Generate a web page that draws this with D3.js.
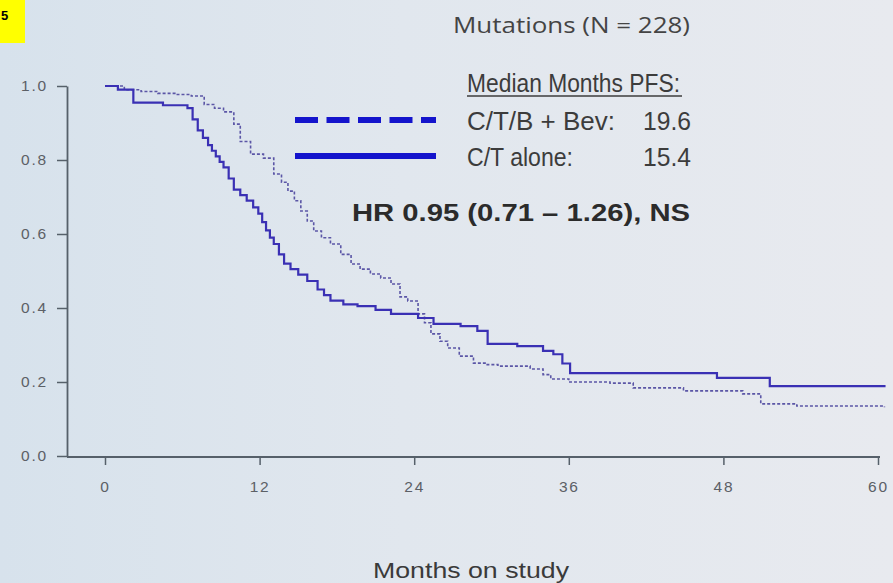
<!DOCTYPE html>
<html>
<head>
<meta charset="utf-8">
<script src="https://cdn.jsdelivr.net/npm/d3@7"></script>
<style>
  body { margin:0; padding:0; overflow:hidden; }
  svg { display:block; }
</style>
</head>
<body>
<script>
// KM curve data (months, proportion progression free)
var bevMonths = [0,1.5,2.8,4.1,5.5,6.7,7.7,8.5,9.2,10,10.5,11.3,12.3,13.1,13.7,14.2,14.7,15.2,15.7,16.2,16.8,17.5,18.3,19.1,19.8,20.6,21.4,22.2,22.9,23.5,24.3,24.8,25.3,26,26.6,27.5,28.6,29.5,30.5,33,34,34.6,36,39.2,41,44.9,49.5,50.9,53.7,60.5];
var bevSurv   = [1.0,0.99,0.985,0.98,0.977,0.973,0.95,0.94,0.93,0.897,0.85,0.816,0.805,0.762,0.74,0.716,0.69,0.662,0.635,0.608,0.59,0.573,0.545,0.519,0.505,0.492,0.481,0.465,0.43,0.419,0.384,0.36,0.33,0.31,0.292,0.27,0.251,0.247,0.243,0.235,0.22,0.208,0.2,0.197,0.184,0.176,0.168,0.141,0.135,0.132];

var ctMonths = [0,1,2.2,4.5,6.4,6.8,7.2,7.6,8,8.3,8.6,8.9,9.2,9.6,10,10.5,11,11.5,11.9,12.2,12.5,12.8,13.1,13.5,13.9,14.4,15,15.7,16.5,17,17.5,18.5,19.6,21,22.2,24.3,25.5,27.6,28.9,29.7,32,34,34.8,35.5,36.1,47.5,51.6,60.5];
var ctSurv   = [1.0,0.99,0.955,0.948,0.94,0.91,0.88,0.86,0.84,0.825,0.81,0.795,0.78,0.75,0.72,0.705,0.69,0.672,0.655,0.632,0.61,0.59,0.573,0.545,0.52,0.505,0.49,0.473,0.45,0.435,0.42,0.41,0.405,0.395,0.384,0.373,0.357,0.351,0.338,0.303,0.297,0.284,0.275,0.25,0.224,0.211,0.189,0.186];

var xTicks = [0,12,24,36,48,60];
var yTicks = [0,0.2,0.4,0.6,0.8,1.0];

var legendNames   = ["C/T/B + Bev:","C/T alone:"];
var legendMedians = ["19.6","15.4"];

var width = 893;
var height = 583;

var svg = d3.select("body")
            .append("svg")
            .attr("width",width)
            .attr("height",height);

// slide background, a bit bluer on the left like the photo
var defs = svg.append("defs");
var grad = defs.append("linearGradient")
            .attr("id","bg")
            .attr("x1","0").attr("x2","1").attr("y1","0").attr("y2","0");
grad.append("stop").attr("offset","0").attr("stop-color","#d7e2ec");
grad.append("stop").attr("offset","0.45").attr("stop-color","#e1e7ee");
grad.append("stop").attr("offset","1").attr("stop-color","#e8eaef");

svg.append("rect")
    .attr("width",width)
    .attr("height",height)
    .attr("fill","url(#bg)");

// yellow tag in the corner
svg.append("rect")
    .attr("x",0).attr("y",0)
    .attr("width",25).attr("height",43)
    .attr("fill","#ffff00");
svg.append("text")
    .attr("x",1).attr("y",20)
    .attr("font-family","Liberation Sans, Arial, sans-serif")
    .attr("font-weight","bold")
    .attr("font-size",13)
    .attr("fill","#000")
    .text("5");

//scales
var x = d3.scaleLinear().domain([0,60]).range([105,878]);
var y = d3.scaleLinear().domain([0,1]).range([456,86]);

var xAxis = d3.axisBottom(x).tickValues(xTicks).tickSize(8).tickPadding(16).tickSizeOuter(0);
var yAxis = d3.axisLeft(y).tickValues(yTicks).tickSize(10).tickPadding(9).tickFormat(d3.format(".1f")).tickSizeOuter(0);

var yG = svg.append("g")
        .attr("class","axis y")
        .attr("transform","translate(67,0)")
        .call(yAxis);

var xG = svg.append("g")
        .attr("class","axis x")
        .attr("transform","translate(0,457)")
        .call(xAxis);

// x axis line starts at the y axis
xG.select(".domain").remove();
xG.append("line")
    .attr("x1",67).attr("x2",880)
    .attr("y1",0).attr("y2",0)
    .attr("stroke","#56606a").attr("stroke-width",1.8);
yG.select(".domain").attr("stroke","#56606a").attr("stroke-width",1.8);

svg.selectAll(".axis .tick line").attr("stroke","#56606a").attr("stroke-width",1.5);
svg.selectAll(".axis text")
    .attr("font-family","Liberation Sans, Arial, sans-serif")
    .attr("font-size",15.5)
    .attr("fill","#5c6066")
    .attr("letter-spacing",1.8);

// step lines
var line = d3.line()
        .x(function(d){ return x(d[0]); })
        .y(function(d){ return y(d[1]); })
        .curve(d3.curveStepAfter);

svg.append("path")
    .attr("d",line(d3.zip(bevMonths,bevSurv)))
    .attr("fill","none")
    .attr("stroke","#5b56a6")
    .attr("stroke-width",1.6)
    .attr("stroke-dasharray","3,2");

svg.append("path")
    .attr("d",line(d3.zip(ctMonths,ctSurv)))
    .attr("fill","none")
    .attr("stroke","#3a30b4")
    .attr("stroke-width",2.2);

// title
svg.append("text")
    .attr("x",453).attr("y",33)
    .attr("font-family","Open Sans, sans-serif")
    .attr("font-size",22)
    .attr("fill","#444")
    .attr("textLength",237)
    .attr("lengthAdjust","spacingAndGlyphs")
    .text("Mutations (N = 228)");

// legend
var narrow = "Liberation Sans Narrow, Arial Narrow, Liberation Sans, sans-serif";
var legendText = "#3c3c3c";
svg.append("text")
    .attr("x",467).attr("y",92)
    .attr("font-family",narrow)
    .attr("font-size",25)
    .attr("fill",legendText)
    .attr("textLength",213)
    .attr("lengthAdjust","spacingAndGlyphs")
    .text("Median Months PFS:");
svg.append("line")
    .attr("x1",467).attr("x2",682)
    .attr("y1",96).attr("y2",96)
    .attr("stroke",legendText).attr("stroke-width",1.3);

var legendY = [120,156];
var legendDash = ["23,8.5",null];
var nameW = [148,106];

legendNames.forEach(function(name,i){
    svg.append("line")
        .attr("x1",295).attr("x2",436)
        .attr("y1",legendY[i]).attr("y2",legendY[i])
        .attr("stroke","#1414cc")
        .attr("stroke-width",6)
        .attr("stroke-dasharray",legendDash[i]);
    svg.append("text")
        .attr("x",467).attr("y",legendY[i]+10)
        .attr("font-family",narrow)
        .attr("font-size",25)
        .attr("fill",legendText)
        .attr("textLength",nameW[i])
        .attr("lengthAdjust","spacingAndGlyphs")
        .text(name);
    svg.append("text")
        .attr("x",643).attr("y",legendY[i]+10)
        .attr("font-family",narrow)
        .attr("font-size",25)
        .attr("fill",legendText)
        .attr("textLength",48)
        .attr("lengthAdjust","spacingAndGlyphs")
        .text(legendMedians[i]);
});

svg.append("text")
    .attr("x",352).attr("y",221)
    .attr("font-family","Liberation Sans, Arial, sans-serif")
    .attr("font-weight","bold")
    .attr("font-size",24)
    .attr("fill","#2b2b2b")
    .attr("textLength",338)
    .attr("lengthAdjust","spacingAndGlyphs")
    .text("HR 0.95 (0.71 \u2013 1.26), NS");

// x axis title
svg.append("text")
    .attr("x",373).attr("y",578)
    .attr("font-family","Liberation Sans, Arial, sans-serif")
    .attr("font-size",22)
    .attr("fill","#3a3a3a")
    .attr("textLength",196)
    .attr("lengthAdjust","spacingAndGlyphs")
    .text("Months on study");
</script>
</body>
</html>
